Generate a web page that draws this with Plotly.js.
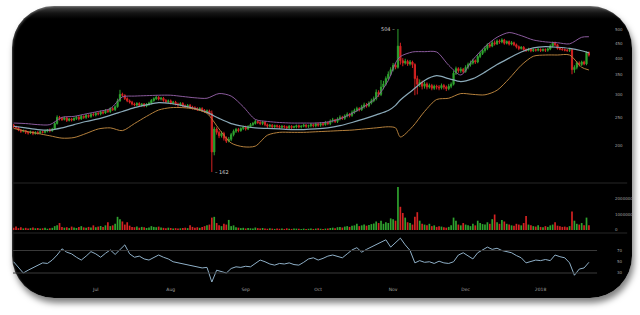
<!DOCTYPE html>
<html><head><meta charset="utf-8">
<script src="https://cdn.plot.ly/plotly-3.0.1.min.js"></script>
<style>
html,body{margin:0;padding:0;background:#fff;width:640px;height:315px;overflow:hidden;}
#frame{position:absolute;left:12px;top:6px;width:620px;height:292px;border-radius:42px;
 background:linear-gradient(#4a4a4a 0px,#151515 7px,#000 13px);
 box-shadow:inset 1px 1px 2px rgba(255,255,255,0.25),2px 5px 6px rgba(0,0,0,0.5);}
#chart{position:absolute;left:0;top:0;width:640px;height:315px;}
</style></head>
<body><div id="frame"></div><div id="chart"></div>
<script>
const startDate = '2017-05-28';
const closes = [
232,230,226,224,225,222,221,223,220,222,
221,223,222,224,226,225,228,238,250,248,
246,249,244,247,245,248,250,247,252,250,
254,252,256,255,258,257,261,259,264,262,
268,266,272,285,300,298,290,285,282,278,
276,279,275,278,274,277,280,286,290,293,
289,291,286,283,285,280,282,278,276,279,
274,272,275,271,270,268,266,268,264,262,
263,258,190,228,222,216,220,212,207,210,
218,224,227,225,229,231,228,232,236,238,
242,240,238,241,236,233,235,232,234,233,
231,233,232,230,233,231,232,234,232,233,
235,233,234,236,234,237,235,238,236,240,
238,243,245,242,247,250,248,253,256,254,
260,264,268,266,272,276,274,280,285,290,
305,300,318,326,340,352,365,378,372,440,
392,385,390,382,388,380,340,325,330,320,
326,318,322,315,320,318,316,322,318,314,
320,325,355,368,362,366,360,372,380,385,
392,388,405,415,425,432,445,440,452,448,
458,455,462,450,456,447,452,445,438,432,
436,428,425,430,424,428,426,429,425,428,
426,430,440,452,445,432,430,428,426,425,
428,365,372,385,380,388,382,418,410];
const opens = [
235,232,230,226,224,225,222,221,223,220,
222,221,223,222,224,226,225,228,238,250,
248,246,249,244,247,245,248,250,247,252,
250,254,252,256,255,258,257,261,259,264,
262,268,266,272,285,300,298,290,285,282,
278,276,279,275,278,274,277,280,286,290,
293,289,291,286,283,285,280,282,278,276,
279,274,272,275,271,270,268,266,268,264,
262,263,258,190,228,222,216,220,212,207,
210,218,224,227,225,229,231,228,232,236,
238,242,240,238,241,236,233,235,232,234,
233,231,233,232,230,233,231,232,234,232,
233,235,233,234,236,234,237,235,238,236,
240,238,243,245,242,247,250,248,253,256,
254,260,264,268,266,272,276,274,280,285,
290,305,300,318,326,340,352,365,378,372,
440,392,385,390,382,388,380,340,325,330,
320,326,318,322,315,320,318,316,322,318,
314,320,325,355,368,362,366,360,372,380,
385,392,388,405,415,425,432,445,440,452,
448,458,455,462,450,456,447,452,445,438,
432,436,428,425,430,424,428,426,429,425,
428,426,430,440,452,445,432,430,428,426,
425,428,365,372,385,380,388,382,418];
const highs = [
237,234,232,228,227,226,224,225,224,224,
224,225,225,226,228,229,230,241,254,253,
251,252,251,249,249,250,253,253,255,254,
257,256,259,259,261,261,264,263,267,267,
271,271,275,290,311,304,300,293,288,285,
281,282,282,280,280,280,283,289,293,297,
296,294,294,289,288,288,285,285,281,282,
282,277,278,278,274,273,271,271,271,267,
266,266,264,232,231,225,224,223,215,214,
221,227,230,230,231,234,234,235,239,241,
245,244,243,243,243,238,237,237,236,236,
235,235,235,234,235,235,234,236,236,235,
238,237,236,239,238,240,240,241,240,243,
242,246,249,247,250,254,253,256,260,259,
264,268,272,271,276,281,280,284,290,295,
312,310,336,334,346,360,372,385,384,504,
452,400,398,395,394,392,384,348,338,335,
332,330,327,326,324,324,323,327,326,322,
326,330,362,374,372,372,370,378,386,392,
398,396,410,420,430,440,450,452,458,460,
464,464,468,466,460,460,458,456,449,442,
440,440,432,434,433,432,431,433,432,432,
432,434,446,456,456,448,436,434,432,430,
433,430,378,390,390,392,392,422,422];
const lows = [
230,228,224,221,222,219,218,219,217,218,
218,219,220,220,222,222,223,226,236,244,
243,244,241,242,242,243,245,244,245,247,
247,249,249,252,252,254,254,256,257,259,
259,263,263,270,283,294,287,282,279,275,
273,273,272,272,271,271,274,277,283,287,
286,286,283,280,280,277,277,275,272,273,
271,269,269,268,266,265,263,263,261,259,
259,255,162,185,218,212,213,208,204,205,
207,215,221,222,223,226,225,226,230,233,
236,237,235,235,233,230,231,229,230,230,
228,229,229,227,228,228,229,229,229,229,
231,230,230,231,231,231,232,232,233,234,
235,235,240,239,239,244,245,245,250,250,
251,257,261,262,263,268,270,271,277,282,
286,294,296,312,322,335,348,360,366,368,
380,375,380,376,377,370,298,300,318,312,
314,312,314,310,311,312,310,312,312,308,
310,315,322,350,356,356,354,356,366,374,
380,382,384,400,410,418,426,434,436,442,
444,448,450,445,446,442,443,440,432,426,
428,424,420,422,419,420,421,422,420,421,
420,421,426,436,440,428,426,424,422,420,
420,352,356,366,374,376,378,378,405];
const volumes = [
150000,230000,120000,180000,100000,140000,90000,120000,160000,110000,
130000,90000,110000,150000,80000,120000,140000,250000,300000,450000,
200000,150000,180000,120000,220000,160000,130000,190000,250000,170000,
140000,200000,160000,300000,180000,220000,260000,200000,300000,500000,
250000,300000,400000,850000,700000,550000,350000,500000,280000,200000,
180000,220000,150000,200000,170000,130000,160000,250000,200000,180000,
220000,160000,140000,120000,150000,130000,100000,120000,90000,110000,
130000,150000,120000,300000,200000,150000,180000,140000,200000,250000,
300000,350000,800000,850000,450000,300000,250000,400000,350000,650000,
250000,300000,180000,150000,120000,140000,100000,130000,110000,90000,
160000,120000,100000,130000,90000,80000,110000,90000,70000,100000,
80000,90000,70000,110000,80000,70000,100000,90000,80000,60000,
90000,70000,80000,100000,70000,90000,110000,80000,60000,90000,
100000,130000,150000,120000,180000,200000,160000,220000,250000,200000,
280000,300000,400000,250000,300000,350000,280000,320000,380000,420000,
550000,450000,600000,400000,500000,450000,750000,700000,600000,2770000,
1500000,1100000,800000,500000,450000,350000,850000,1150000,600000,400000,
350000,300000,400000,250000,300000,200000,250000,220000,180000,150000,
200000,300000,800000,600000,350000,300000,450000,350000,300000,250000,
400000,300000,600000,450000,380000,350000,500000,400000,700000,1000000,
500000,400000,650000,550000,400000,350000,300000,280000,400000,350000,
300000,450000,900000,350000,300000,250000,220000,300000,200000,180000,
250000,200000,300000,350000,500000,280000,250000,200000,220000,180000,
250000,1200000,600000,400000,350000,450000,300000,800000,300000];
// Bollinger bands, read at these day offsets
const bandDays = [0,5,10,15,20,25,30,35,40,45,50,55,60,65,70,75,80,85,90,95,100,105,110,115,120,125,130,135,140,145,150,155,158,160,165,170,175,180,185,190,195,200,205,210,215,220,225,230,235,238];
const bandUpper = [239,238,236,236,250,252,257,262,268,294,296,297,298,298,295,292,291,302,296,272,246,242,240,239,239,239,241,247,258,272,292,335,385,405,420,421,420,378,350,395,438,472,490,478,462,455,452,448,472,474];
const bandMiddle = [233,230,227,226,230,236,242,247,254,262,270,276,281,279,274,268,260,248,238,233,230,229,228,227,227,228,230,234,240,247,255,264,275,287,310,335,348,340,332,340,358,380,400,420,434,438,436,432,424,417];
const bandLower = [229,224,220,216,212,213,220,228,230,225,238,252,265,270,270,267,258,228,204,198,199,217,222,222,222,223,224,225,226,228,230,232,230,214,232,262,288,291,302,300,299,310,340,378,406,410,410,410,372,364];
// RSI, read every second day
const rsiValues = [
50,40,30,35,39,44,48,47,53,62,
73,67,64,58,53,60,68,64,58,65,
71,63,72,80,64,58,60,55,53,58,
62,58,55,50,48,46,44,42,40,39,
40,14,35,33,30,38,41,40,42,41,
47,53,50,46,44,47,46,48,45,44,
49,55,57,53,56,60,62,59,57,64,
71,75,67,72,76,80,84,89,76,84,
92,80,70,48,52,49,50,47,51,48,
47,50,62,66,60,55,66,71,76,72,
74,70,68,66,61,57,48,51,53,52,
54,52,62,59,57,48,26,37,39,49];
const priceTicks = [200,250,300,350,400,450,500];
const volumeTicks = [0,1000000,2000000];
const rsiTicks = [30,50,70];
const monthTicks = ['2017-07-01','2017-08-01','2017-09-01','2017-10-01','2017-11-01','2017-12-01','2018-01-01'];
const monthLabels = ['Jul','Aug','Sep','Oct','Nov','Dec','2018'];

const DAY = 86400000;
const t0 = Date.parse(startDate + 'T00:00:00Z');
const dayToDate = d => new Date(t0 + d*DAY).toISOString().slice(0,10);
const dates = closes.map((_, i) => dayToDate(i));
const bandDates = bandDays.map(dayToDate);
const rsiDates = rsiValues.map((_, i) => dayToDate(2*i));

const GREEN = '#2fa32f', RED = '#d42222';
const volColors = closes.map((c, i) => c >= opens[i] ? GREEN : RED);

const traces = [
 {type:'candlestick', x:dates, open:opens, high:highs, low:lows, close:closes, xaxis:'x', yaxis:'y',
  increasing:{line:{color:GREEN,width:1}, fillcolor:GREEN},
  decreasing:{line:{color:RED,width:1}, fillcolor:RED}, whiskerwidth:0, hoverinfo:'skip'},
 {type:'scatter', mode:'lines', x:bandDates, y:bandUpper, xaxis:'x', yaxis:'y', line:{color:'#8a5a9c', width:1, shape:'spline', smoothing:0.8}},
 {type:'scatter', mode:'lines', x:bandDates, y:bandMiddle, xaxis:'x', yaxis:'y', line:{color:'#8aa9b8', width:1.2, shape:'spline', smoothing:0.8}},
 {type:'scatter', mode:'lines', x:bandDates, y:bandLower, xaxis:'x', yaxis:'y', line:{color:'#b5803c', width:1, shape:'spline', smoothing:0.8}},
 {type:'bar', x:dates, y:volumes, xaxis:'x', yaxis:'y2', marker:{color:volColors, line:{width:0}}},
 {type:'scatter', mode:'lines', x:rsiDates, y:rsiValues, xaxis:'x', yaxis:'y3', line:{color:'#8fb0c8', width:1}}
];

let hiIdx = 0, loIdx = 0;
highs.forEach((v,i)=>{ if (v > highs[hiIdx]) hiIdx = i; });
lows.forEach((v,i)=>{ if (v < lows[loIdx]) loIdx = i; });

const tickFont = {family:'DejaVu Sans, sans-serif', size:4, color:'#a0a0a0'};
const H = 315;
const layout = {
 width:640, height:315, margin:{l:0,r:0,t:0,b:0},
 paper_bgcolor:'rgba(0,0,0,0)', plot_bgcolor:'rgba(0,0,0,0)',
 showlegend:false, bargap:0.3, hovermode:false,
 font:tickFont,
 xaxis:{type:'date', domain:[13/640, 600/640], range:['2017-05-27 18:00','2018-01-25 14:00'], anchor:'y3',
   showgrid:false, zeroline:false, showline:false, ticks:'', tickvals:monthTicks, ticktext:monthLabels,
   tickfont:{family:'DejaVu Sans, sans-serif', size:4.5, color:'#a0a0a0'}, rangeslider:{visible:false}, automargin:false},
 yaxis:{type:'log', domain:[1-182/H, 1-15/H], range:[Math.log10(149.7), Math.log10(563.2)], side:'right', anchor:'x',
   showgrid:false, zeroline:false, showline:false, ticks:'', tickvals:priceTicks, ticktext:priceTicks.map(String),
   tickfont:tickFont, ticklabelstandoff:14, automargin:false},
 yaxis2:{domain:[1-232/H, 1-184/H], range:[-129000, 2970000], side:'right', anchor:'x',
   showgrid:false, zeroline:false, showline:false, ticks:'', tickvals:volumeTicks, ticktext:volumeTicks.map(String),
   tickfont:tickFont, ticklabelstandoff:14, automargin:false},
 yaxis3:{domain:[1-285/H, 1-234/H], range:[8.7, 99.3], side:'right', anchor:'x',
   showgrid:false, zeroline:false, showline:false, ticks:'', tickvals:rsiTicks, ticktext:rsiTicks.map(String),
   tickfont:tickFont, ticklabelstandoff:16, automargin:false},
 shapes:[
  {type:'line', xref:'paper', yref:'paper', x0:0.02, x1:0.98, y0:1-183/H, y1:1-183/H, line:{color:'#262626', width:1}},
  {type:'line', xref:'paper', yref:'paper', x0:0.02, x1:0.98, y0:1-233/H, y1:1-233/H, line:{color:'#262626', width:1}},
  {type:'line', xref:'x domain', yref:'y3', x0:0, x1:0.995, y0:70, y1:70, line:{color:'#3a3a3a', width:1}},
  {type:'line', xref:'x domain', yref:'y3', x0:0, x1:0.995, y0:30, y1:30, line:{color:'#3a3a3a', width:1}}
 ],
 annotations:[
  {x:dates[hiIdx], y:Math.log10(highs[hiIdx]), xref:'x', yref:'y', text:highs[hiIdx]+' \u2013', showarrow:false,
   xanchor:'right', yanchor:'middle', xshift:-1, font:{family:'DejaVu Sans, sans-serif', size:5, color:'#d0d0d0'}},
  {x:dates[loIdx], y:Math.log10(lows[loIdx]), xref:'x', yref:'y', text:'\u2013 '+lows[loIdx], showarrow:false,
   xanchor:'left', yanchor:'middle', xshift:1, font:{family:'DejaVu Sans, sans-serif', size:5, color:'#d0d0d0'}}
 ]
};
Plotly.newPlot('chart', traces, layout, {staticPlot:true, displayModeBar:false});
</script></body></html>
